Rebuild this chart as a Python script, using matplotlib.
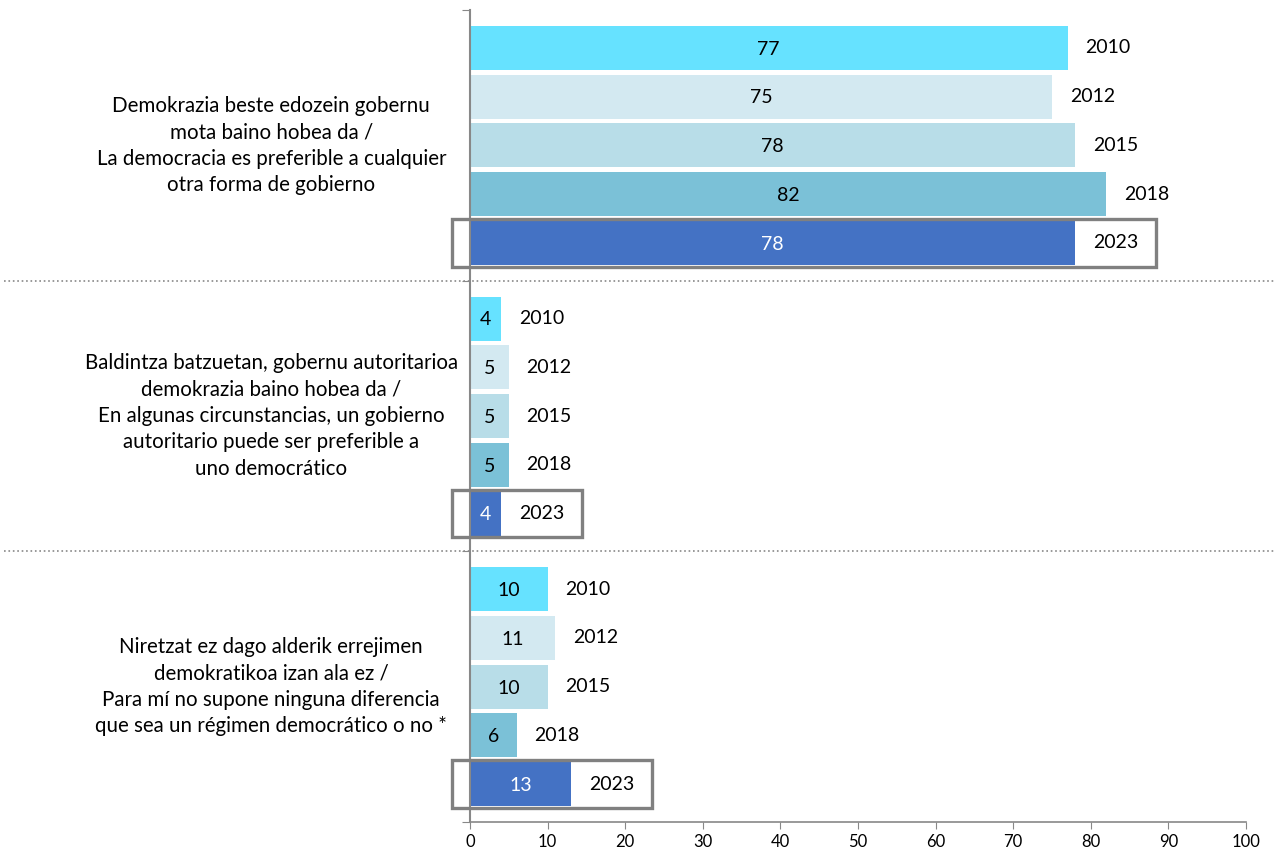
import matplotlib.pyplot as plt
from matplotlib.patches import Rectangle

plt.rcParams['font.family'] = ['Lato', 'DejaVu Sans']

# Data
categories = [
    "Demokrazia beste edozein gobernu\nmota baino hobea da /\nLa democracia es preferible a cualquier\notra forma de gobierno",
    "Baldintza batzuetan, gobernu autoritarioa\ndemokrazia baino hobea da /\nEn algunas circunstancias, un gobierno\nautoritario puede ser preferible a\nuno democrático",
    "Niretzat ez dago alderik errejimen\ndemokratikoa izan ala ez /\nPara mí no supone ninguna diferencia\nque sea un régimen democrático o no *",
]
years = ['2010', '2012', '2015', '2018', '2023']
values = {
    '2010': [77, 4, 10],
    '2012': [75, 5, 11],
    '2015': [78, 5, 10],
    '2018': [82, 5, 6],
    '2023': [78, 4, 13],
}
colors = ['#66E2FF', '#D3E9F1', '#B8DDE8', '#7BC1D7', '#4472C4']

fig = plt.figure(figsize=(12.76, 8.56), dpi=100)
ax = fig.add_axes([0.3683, 0.0397, 0.6082, 0.9486])

step = 0.18
height = 0.163
for i, yr in enumerate(years):
    offset = (i - 2) * step
    for c, v in enumerate(values[yr]):
        y = c + offset
        ax.barh(y, v, height=height, color=colors[i])
        txt_color = 'white' if yr == '2023' else 'black'
        ax.text(v / 2, y + 0.005, str(v), ha='center', va='center', fontsize=14, color=txt_color)
        ax.text(v + 2.3, y, yr, ha='left', va='center', fontsize=14, color='black')
        if yr == '2023':
            ax.add_patch(Rectangle((-2.3, y - 0.088), v + 12.7, 0.176, fill=False,
                                   edgecolor='#808080', linewidth=2.4, clip_on=False, zorder=5))

ax.set_xlim(0, 100)
ax.set_ylim(2.5, -0.5)
ax.set_xticks(range(0, 101, 10))
ax.tick_params(axis='x', labelsize=12, colors='#888888', labelcolor='black', length=5)
ax.set_yticks([-0.5, 0.5, 1.5, 2.5])
ax.set_yticklabels([])
ax.tick_params(axis='y', colors='#888888', length=6)

for c, label in enumerate(categories):
    ax.text(-0.256, c, label, transform=ax.get_yaxis_transform(), ha='center', va='center',
            multialignment='center', fontsize=14.8, linespacing=1.4)

# dotted separators between groups
for yb in [0.5, 1.5]:
    ax.plot([-0.6, 1.04], [yb, yb], transform=ax.get_yaxis_transform(), linestyle=':',
            color='#888888', linewidth=1.2, clip_on=False)

for s in ['top', 'right']:
    ax.spines[s].set_visible(False)
ax.spines['left'].set_color('#888888')
ax.spines['bottom'].set_color('#888888')
ax.spines['left'].set_linewidth(1.5)
ax.spines['bottom'].set_linewidth(1.2)

plt.savefig('out.png', dpi=100)
